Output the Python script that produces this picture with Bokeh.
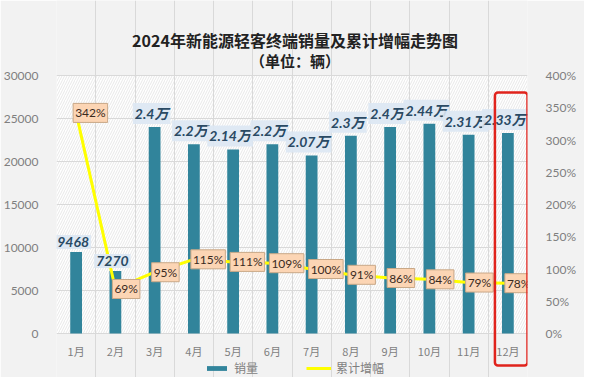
from bokeh.plotting import figure
from bokeh.models import (ColumnDataSource, LinearAxis, Range1d, FixedTicker, Label,
                          BoxAnnotation, Legend, LegendItem)
from bokeh.embed import file_html
from bokeh.resources import INLINE

# ---- data ----
months = ["1月", "2月", "3月", "4月", "5月", "6月", "7月", "8月", "9月", "10月", "11月", "12月"]
sales = [9468, 7270, 24000, 22000, 21400, 22000, 20700, 23000, 24000, 24400, 23100, 23300]
sales_labels = ["9468", "7270", "2.4万", "2.2万", "2.14万", "2.2万", "2.07万", "2.3万",
                "2.4万", "2.44万", "2.31万", "2.33万"]
growth = [342, 69, 95, 115, 111, 109, 100, 91, 86, 84, 79, 78]
growth_labels = [f"{g}%" for g in growth]
y_ticks = [0, 5000, 10000, 15000, 20000, 25000, 30000]
y2_ticks = [0, 50, 100, 150, 200, 250, 300, 350, 400]
highlight_month = "12月"
title_main = "2024年新能源轻客终端销量及累计增幅走势图"
title_sub = "（单位：辆）"
legend_labels = ["销量", "累计增幅"]

FONT = "Lato, 'Noto Sans CJK SC', sans-serif"
NARROW = "'Liberation Sans Narrow', Lato, 'Noto Sans CJK SC', sans-serif"
CJK = "'Noto Sans CJK SC', sans-serif"

# ---- layout (pixels) ----
W, H = 584, 377
PLOT_TOP, PLOT_BOTTOM = 75, 333          # pixel rows of 30000 and 0
Y_MAX, PCT_MAX = y_ticks[-1], y2_ticks[-1]
upp = Y_MAX / (PLOT_BOTTOM - PLOT_TOP)   # data units per pixel
y_start = -(H - PLOT_BOTTOM) * upp
y_end = Y_MAX + PLOT_TOP * upp
k = PCT_MAX / Y_MAX

x = list(range(1, len(months) + 1))
src = ColumnDataSource(dict(x=x, sales=sales, growth=growth))

p = figure(width=W, height=H, output_backend="svg", toolbar_location=None,
           x_range=Range1d(0.5, len(months) + 0.5), y_range=Range1d(y_start, y_end),
           min_border_left=47, min_border_right=57, min_border_top=0, min_border_bottom=0)
p.extra_y_ranges = {"pct": Range1d(y_start * k, y_end * k)}
p.background_fill_color = "#f2f2f2"
p.border_fill_color = "#f2f2f2"
p.outline_line_color = None
p.xaxis.visible = False

# plot area: white with diagonal hatch
p.add_layout(BoxAnnotation(bottom=0, top=Y_MAX, fill_color="white", fill_alpha=1,
                           hatch_pattern="/", hatch_color="#d9d9d9", hatch_scale=5,
                           hatch_weight=0.6, line_color=None, level="image"))

# grids
p.ygrid.ticker = FixedTicker(ticks=y_ticks)
p.ygrid.grid_line_color = "#d9d9d9"
p.xgrid.ticker = FixedTicker(ticks=[i - 0.5 for i in x] + [x[-1] + 0.5])
p.xgrid.grid_line_color = "#d9d9d9"
p.xgrid.bounds = (-5 * upp, Y_MAX)

# y axes
p.yaxis.ticker = FixedTicker(ticks=y_ticks)
p.yaxis.axis_line_color = None
p.yaxis.major_tick_line_color = None
p.yaxis.minor_tick_line_color = None
p.yaxis.major_label_text_color = "#7f7f7f"
p.yaxis.major_label_text_font = FONT
p.yaxis.major_label_text_font_size = "12px"
p.yaxis.major_label_standoff = 12

ax2 = LinearAxis(y_range_name="pct", ticker=FixedTicker(ticks=y2_ticks))
ax2.major_label_overrides = {t: f"{t}%" for t in y2_ticks}
ax2.axis_line_color = None
ax2.major_tick_line_color = None
ax2.minor_tick_line_color = None
ax2.major_label_text_color = "#7f7f7f"
ax2.major_label_text_font = FONT
ax2.major_label_text_font_size = "12px"
ax2.major_label_standoff = 12
p.add_layout(ax2, "right")

# month labels under the axis
for xi, m in zip(x, months):
    p.add_layout(Label(x=xi, y=0, text=m, y_offset=-17, text_align="center",
                       text_baseline="middle", text_font=CJK, text_font_size="11px",
                       text_color="#7f7f7f"))

# titles
xc = (x[0] + x[-1]) / 2
p.add_layout(Label(x=xc, y=y_end, text=title_main, x_offset=3, y_offset=-39, text_align="center",
                   text_baseline="middle", text_font=CJK, text_font_size="16px",
                   text_font_style="bold", text_color="#222222"))
p.add_layout(Label(x=xc, y=y_end, text=title_sub, x_offset=3, y_offset=-60, text_align="center",
                   text_baseline="middle", text_font=CJK, text_font_size="15px",
                   text_font_style="bold", text_color="#222222"))

# marks
bars = p.vbar(x="x", top="sales", width=0.3, source=src, fill_color="#31849b", line_color=None)
line = p.line(x="x", y="growth", source=src, y_range_name="pct", line_color="#ffff00", line_width=3)

for xi, s, sl in zip(x, sales, sales_labels):
    p.add_layout(Label(x=xi, y=s, text=sl, x_offset=-3, y_offset=3,
                       text_align="center", text_baseline="bottom", text_font=NARROW,
                       text_font_size="14px", text_font_style="bold italic", text_color="#2a4a64",
                       background_fill_color="#dce7f3", background_fill_alpha=0.9, padding=2))
for xi, g, gl in zip(x, growth, growth_labels):
    p.add_layout(Label(x=xi, y=g, text=gl, y_range_name="pct",
                       x_offset=-3, text_align="left", text_baseline="middle", text_font=FONT,
                       text_font_size="12px", text_color="#3b2a1e",
                       background_fill_color="#fcd5b4", border_line_color="#c9a887",
                       border_line_width=1, padding=2))

# highlight box around the last month
hx = x[months.index(highlight_month)]
p.add_layout(BoxAnnotation(left=hx - 0.33, right=hx + 0.5, top=Y_MAX - 17 * upp,
                           bottom=-32 * upp, fill_alpha=0, line_color="#e0231c",
                           line_alpha=1, line_width=2.5, border_radius=3))

legend = Legend(items=[LegendItem(label=legend_labels[0], renderers=[bars]),
                       LegendItem(label=legend_labels[1], renderers=[line])],
                orientation="horizontal", location=(148, 1), padding=0, margin=0,
                spacing=48, label_standoff=5, glyph_width=25, glyph_height=6,
                label_height=14, label_text_font=CJK, label_text_font_size="12px",
                label_text_color="#7f7f7f", background_fill_alpha=0, border_line_color=None)
p.add_layout(legend, "center")

open("out.html", "w").write(file_html(p, INLINE))
